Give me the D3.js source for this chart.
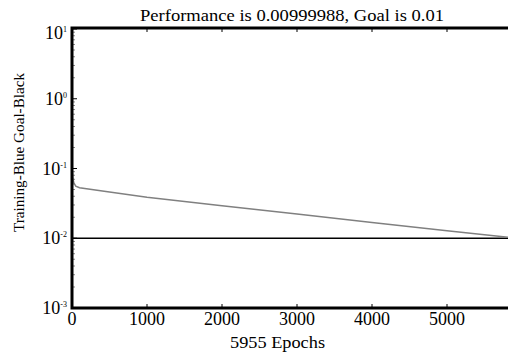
<!DOCTYPE html>
<html>
<head>
<meta charset="utf-8">
<script src="https://cdn.jsdelivr.net/npm/d3@7"></script>
<style>
  body { margin: 0; background: #fff; }
</style>
</head>
<body>
<div id="chart"></div>
<script>
//Training curve data
var epochs = [0, 5, 12, 25, 50, 100, 500, 1000, 2000, 3000, 4000, 5000, 5955];
var perf = [0.11, 0.09, 0.072, 0.062, 0.056, 0.053, 0.046, 0.0387, 0.0293, 0.0222, 0.0168, 0.0128, 0.00999988];
var goal = 0.01;
var xTicks = [0, 1000, 2000, 3000, 4000, 5000];
var yExps = [1, 0, -1, -2, -3];

var width = 508, height = 354;
var margin = {top: 29, left: 72, bottom: 46};
var serif = "font-family:'Liberation Serif','Times New Roman',serif;";

var svg = d3.select("#chart").append("svg")
    .attr("width", width)
    .attr("height", height);

//Scales
var x = d3.scaleLinear()
    .domain([0, 5955])
    .range([margin.left, margin.left + 5.955 * 75]);

var y = d3.scaleLog()
    .domain([1e-3, 10])
    .range([height - margin.bottom, margin.top]);

var x0 = x.range()[0], x1 = x.range()[1];
var y0 = y.range()[0], y1 = y.range()[1] - 1;

//Minor ticks on the y axis
var minor = [];
for (var e = -3; e < 1; e++) {
    for (var k = 2; k < 10; k++) minor.push(k * Math.pow(10, e));
}
svg.selectAll(".minor")
    .data(minor)
    .enter()
    .append("line")
    .attr("x1", x0)
    .attr("x2", x0 + 3)
    .attr("y1", function(d) { return y(d); })
    .attr("y2", function(d) { return y(d); })
    .style("stroke", "#888")
    .style("stroke-width", 1);

//Major ticks y
svg.selectAll(".ymaj")
    .data(yExps)
    .enter()
    .append("line")
    .attr("x1", x0)
    .attr("x2", x0 + 5)
    .attr("y1", function(d) { return y(Math.pow(10, d)); })
    .attr("y2", function(d) { return y(Math.pow(10, d)); })
    .style("stroke", "#000")
    .style("stroke-width", 1);

//Major ticks x (bottom and top)
[y0, y1].forEach(function(yy, j) {
    svg.selectAll(".xt" + j)
        .data(xTicks.slice(1))
        .enter()
        .append("line")
        .attr("x1", function(d) { return x(d); })
        .attr("x2", function(d) { return x(d); })
        .attr("y1", yy)
        .attr("y2", j == 0 ? yy - 4 : yy + 4)
        .style("stroke", "#555")
        .style("stroke-width", 1.5);
});

//Goal line
svg.append("line")
    .attr("x1", x0)
    .attr("x2", x1)
    .attr("y1", y(goal))
    .attr("y2", y(goal))
    .style("stroke", "#000")
    .style("stroke-width", 1.5);

//Performance curve
var line = d3.line()
    .x(function(d, i) { return x(epochs[i]); })
    .y(function(d) { return y(d); });

svg.append("path")
    .datum(perf)
    .attr("d", line)
    .style("fill", "none")
    .style("stroke", "#808080")
    .style("stroke-width", 1.5);

//Frame
svg.append("path")
    .attr("d", "M" + x1 + "," + y1 + "H" + x0 + "V" + y0 + "H" + x1)
    .style("fill", "none")
    .style("stroke", "#000")
    .style("stroke-width", 3);

//X tick labels
svg.selectAll(".xlab")
    .data(xTicks)
    .enter()
    .append("text")
    .attr("x", function(d) { return x(d); })
    .attr("y", y0 + 17)
    .attr("text-anchor", "middle")
    .attr("style", serif + "font-size:18px")
    .text(function(d) { return d; });

//Y tick labels
var yl = svg.selectAll(".ylab")
    .data(yExps)
    .enter()
    .append("text")
    .attr("x", x0 - 5)
    .attr("y", function(d) {
        var p = y(Math.pow(10, d)) + 6;
        return d == 1 ? p + 4 : p;
    })
    .attr("text-anchor", "end")
    .attr("style", serif + "font-size:18px");
yl.append("tspan").text("10");
yl.append("tspan")
    .attr("dy", -7)
    .attr("style", "font-size:8px")
    .text(function(d) { return d; });

//Title and labels
svg.append("text")
    .attr("x", 140)
    .attr("y", 21)
    .attr("textLength", 304)
    .attr("lengthAdjust", "spacingAndGlyphs")
    .attr("style", serif + "font-size:17px")
    .text("Performance is 0.00999988, Goal is 0.01");

svg.append("text")
    .attr("x", 230)
    .attr("y", 348)
    .attr("textLength", 95)
    .attr("lengthAdjust", "spacingAndGlyphs")
    .attr("style", serif + "font-size:17px")
    .text("5955 Epochs");

svg.append("text")
    .attr("transform", "translate(24,232) rotate(-90)")
    .attr("textLength", 159)
    .attr("lengthAdjust", "spacingAndGlyphs")
    .attr("style", serif + "font-size:14px")
    .text("Training-Blue  Goal-Black");
</script>
</body>
</html>
